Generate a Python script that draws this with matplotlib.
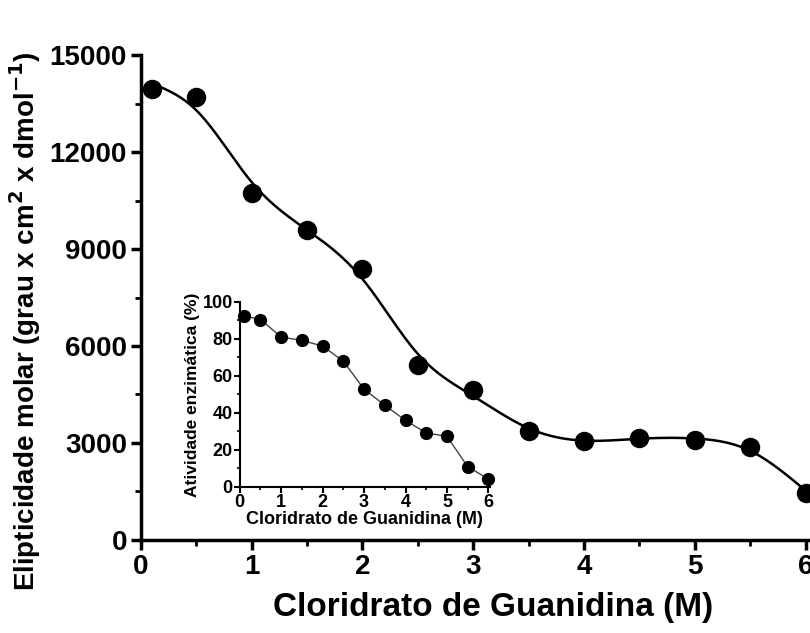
import numpy as np
import matplotlib.pyplot as plt
from matplotlib.ticker import MultipleLocator

plt.rcParams['font.family'] = ['Liberation Sans', 'DejaVu Sans']
plt.rcParams['font.weight'] = 'bold'

# dados
conc = [0.1, 0.5, 1, 1.5, 2, 2.5, 3, 3.5, 4, 4.5, 5, 5.5, 6]
elipt = [13950, 13700, 10730, 9600, 8370, 5420, 4640, 3370, 3060, 3160, 3090, 2880, 1460]
ativ = [92.5, 90.5, 81, 79.2, 76.1, 67.9, 52.8, 44.1, 35.9, 29.1, 27.3, 10.9, 4.2]

# curva suavizada (spline de suavizacao numa grade fina)
passo = 0.01
xs = np.round(np.arange(conc[0], conc[-1] + passo / 2, passo), 4)
n = len(xs)
idx = np.round((np.array(conc) - conc[0]) / passo).astype(int)
w = np.zeros(n)
yv = np.zeros(n)
w[idx] = 1
yv[idx] = elipt
D2 = np.diff(np.eye(n), 2, axis=0)
lam = 0.007
ys = np.linalg.solve(np.diag(w) + lam / passo**3 * D2.T @ D2, w * yv)

fig = plt.figure(figsize=(8.1, 6.33), dpi=100)
ax = fig.add_axes([0.174, 0.147, 0.826, 0.766])
ax.plot(xs, ys, color='black', lw=1.8)
ax.plot(conc, elipt, 'o', color='black', ms=13, clip_on=False)
ax.set_xlim(0, 6.04)
ax.set_ylim(0, 15000)
ax.set_xticks(range(7))
ax.set_yticks(range(0, 15001, 3000))
ax.xaxis.set_minor_locator(MultipleLocator(0.5))
ax.yaxis.set_minor_locator(MultipleLocator(1500))
for s in ['top', 'right']:
    ax.spines[s].set_visible(False)
for s in ['left', 'bottom']:
    ax.spines[s].set_linewidth(2.5)
ax.tick_params(which='major', length=7, width=2.5, labelsize=20, direction='out', pad=3)
ax.tick_params(which='minor', length=4, width=2, direction='out')
ax.set_xlabel('Cloridrato de Guanidina (M)', fontsize=24, fontweight='bold')
ax.xaxis.set_label_coords(0.526, -0.108)
ax.set_ylabel('Elipticidade molar (grau x cm$^\\mathbf{2}$ x dmol$^\\mathbf{-1}$)',
              fontsize=20, fontweight='bold')
ax.yaxis.set_label_coords(-0.146, 0.452)
for lab in ax.get_xticklabels() + ax.get_yticklabels():
    lab.set_fontweight('bold')

# grafico inserido
axi = fig.add_axes([0.296, 0.231, 0.309, 0.292])
axi.patch.set_visible(False)
axi.plot(conc, ativ, '-', color='#444444', lw=1)
axi.plot(conc, ativ, 'o', color='black', ms=8.5, clip_on=False)
axi.set_xlim(0, 6.04)
axi.set_ylim(0, 100)
axi.set_xticks(range(7))
axi.set_yticks(range(0, 101, 20))
axi.xaxis.set_minor_locator(MultipleLocator(0.5))
axi.yaxis.set_minor_locator(MultipleLocator(10))
for s in ['top', 'right']:
    axi.spines[s].set_visible(False)
for s in ['left', 'bottom']:
    axi.spines[s].set_linewidth(1.5)
axi.tick_params(which='major', length=4, width=1.5, labelsize=13, direction='out', pad=1)
axi.tick_params(which='minor', length=2.5, width=1.2, direction='out')
axi.set_xlabel('Cloridrato de Guanidina (M)', fontsize=13, fontweight='bold', labelpad=0)
axi.set_ylabel('Atividade enzimática (%)', fontsize=12.5, fontweight='bold', labelpad=2)
for lab in axi.get_xticklabels() + axi.get_yticklabels():
    lab.set_fontweight('bold')

fig.savefig('out.png', dpi=100)
